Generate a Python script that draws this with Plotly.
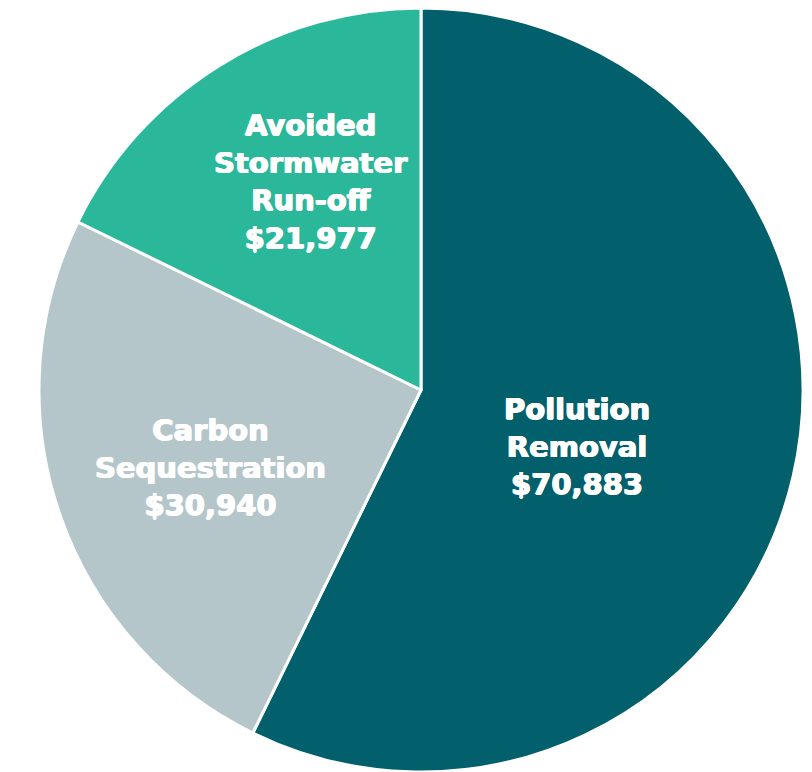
import plotly.graph_objects as go

categories = ["Pollution Removal", "Carbon Sequestration", "Avoided Stormwater Run-off"]
values = [70883, 30940, 21977]
label_texts = ["Pollution<br>Removal<br>$70,883",
               "Carbon<br>Sequestration<br>$30,940",
               "Avoided<br>Stormwater<br>Run-off<br>$21,977"]
colors = ["#01606B", "#B5C6CB", "#2BB89A"]

# page has an 8px body margin; size the figure to fit the viewport
W, H = 804, 764
cx, r = 413, 382

fig = go.Figure(go.Pie(
    labels=categories,
    values=values,
    sort=False,
    direction="clockwise",
    rotation=0,
    textinfo="none",
    hoverinfo="label+value",
    marker=dict(colors=colors, line=dict(color="white", width=3)),
    domain=dict(x=[(cx - r) / W, (cx + r) / W], y=[0, 1]),
    showlegend=False,
))

label_pos = [(569, 438), (202, 459), (303, 173)]
for txt, (px, py) in zip(label_texts, label_pos):
    fig.add_annotation(
        text=txt, xref="paper", yref="paper",
        x=px / W, y=1 - py / H, xanchor="center", yanchor="middle",
        showarrow=False, align="center",
        font=dict(family="DejaVu Sans", size=29, color="white", weight="bold",
                  shadow="0.7px 0 0 white, -0.7px 0 0 white, 0 0.5px 0 white"),
    )

fig.update_layout(
    width=W, height=H,
    margin=dict(l=0, r=0, t=0, b=0),
    paper_bgcolor="white", plot_bgcolor="white",
)
fig.write_html("out.html")
